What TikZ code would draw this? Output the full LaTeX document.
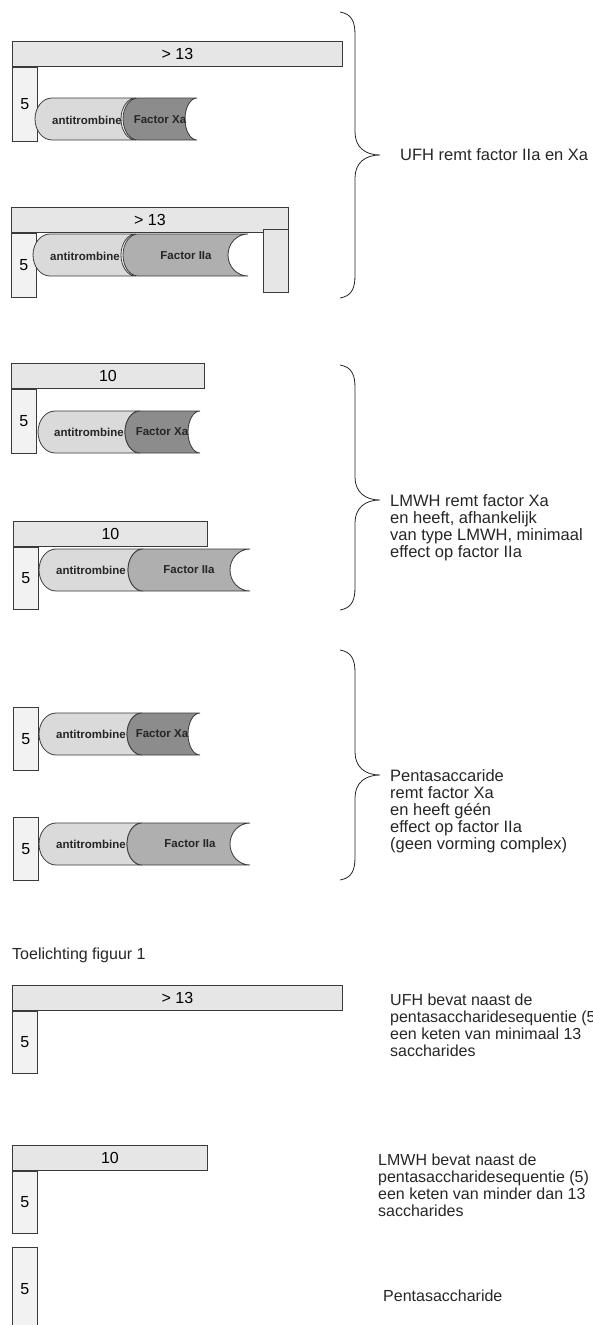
\documentclass[tikz,border=0pt]{standalone}
\usepackage{fontspec}
\setmainfont{Liberation Sans}
\usepackage{tikz}
\usetikzlibrary{calc}

\definecolor{barfill}{HTML}{E6E6E6}
\definecolor{unitfill}{HTML}{F1F2F1}
\definecolor{atfill}{HTML}{DADADA}
\definecolor{xafill}{HTML}{8C8C8C}
\definecolor{iiafill}{HTML}{AFAFAF}
\definecolor{edge}{HTML}{3A3A3A}

\tikzset{
  chainbar/.style={draw=edge,fill=barfill,line width=0.8pt,anchor=north west,minimum height=25,inner sep=0pt,font=\fontsize{16}{16}\selectfont},
  unitbox/.style={draw=edge,fill=unitfill,line width=0.8pt,anchor=north west,minimum width=25,inner sep=0pt,font=\fontsize{16}{16}\selectfont},
  molecule/.style={draw=edge,line width=0.8pt},
  mollabel/.style={font=\bfseries\fontsize{11.5}{11.5}\selectfont,text=black!85,inner sep=0pt},
  sidetext/.style={anchor=north west,align=left,inner sep=0pt,font=\fontsize{16.5}{17}\selectfont,text=black!85},
  notetext/.style={sidetext,font=\fontsize{16}{17}\selectfont},
  bracket/.style={draw=black!85,line width=0.8pt},
}

% antitrombine + factor: #1 top, #2 left end, #3 factor left end, #4 factor right end,
% #5 factor colour, #6 depth of the bite on the right, #7 gap at the junction
\newcommand{\complexpair}[7]{%
  \draw[molecule,fill=atfill] ({#2+17},#1) arc[start angle=90,end angle=270,x radius=17pt,y radius=21pt]
    -- ({#3+15-#7},{#1+42}) arc[start angle=270,end angle=90,x radius=15pt,y radius=21pt] -- cycle;
  \draw[molecule,fill=#5] (#4,#1) arc[start angle=90,end angle=270,x radius=#6pt,y radius=21pt]
    -- ({#3+15},{#1+42}) arc[start angle=270,end angle=90,x radius=15pt,y radius=21pt] -- cycle;
}

% right-hand brace: #1 x of the ends, #2 top, #3 tip, #4 bottom
\newcommand{\sidebrace}[4]{%
  \draw[bracket] (#1,#2) .. controls ({#1+12},{#2+2}) and ({#1+15},{#2+10}) .. ({#1+15},{#2+23})
    -- ({#1+15},{#3-23}) .. controls ({#1+15},{#3-8}) and ({#1+25},#3) .. ({#1+40},#3)
    .. controls ({#1+25},#3) and ({#1+15},{#3+8}) .. ({#1+15},{#3+23})
    -- ({#1+15},{#4-23}) .. controls ({#1+15},{#4-10}) and ({#1+12},{#4-2}) .. (#1,#4);
}

\begin{document}
\begin{tikzpicture}[x=1pt,y=-1pt]
  \useasboundingbox (0,0) rectangle (592,1325);

  % UFH
  \node[chainbar,minimum width=330] (bar1) at (12,41) {> 13};
  \node[unitbox,minimum height=74] (unit1) at (bar1.south west) {\raisebox{-8pt}{5}};
  \complexpair{98}{35}{123}{197}{xafill}{12}{2}
  \node[mollabel] (at1) at (87,120) {antitrombine};
  \node[mollabel] (fx1) at (160,120) {Factor Xa};

  \node[chainbar,minimum width=277] (bar2) at (11,207) {> 13};
  \node[unitbox,minimum height=64] (unit2) at (bar2.south west) {5};
  \complexpair{234}{33}{123}{248}{iiafill}{20}{2}
  \node[unitbox,fill=barfill,minimum height=63] (end2) at (263,229) {};
  \node[mollabel] (at2) at (85,256) {antitrombine};
  \node[mollabel] (fx2) at (186,256) {Factor IIa};

  \sidebrace{340}{12}{155}{298}
  \node[sidetext,anchor=west] (ufh) at (400,155) {UFH remt factor IIa en Xa};

  % LMWH
  \node[chainbar,minimum width=193] (bar3) at (11,363) {10};
  \node[unitbox,minimum height=64] (unit3) at (bar3.south west) {5};
  \complexpair{411}{38}{125}{200}{xafill}{12}{0}
  \node[mollabel] (at3) at (89,432) {antitrombine};
  \node[mollabel] (fx3) at (162,432) {Factor Xa};

  \node[chainbar,minimum width=194] (bar4) at (13,521) {10};
  \node[unitbox,minimum height=62] (unit4) at (bar4.south west) {5};
  \complexpair{549}{39}{128}{250}{iiafill}{20}{0}
  \node[mollabel] (at4) at (91,570) {antitrombine};
  \node[mollabel] (fx4) at (189,570) {Factor IIa};

  \sidebrace{340}{365}{500}{610}
  \node[sidetext] (lmwh) at (390,494) {LMWH remt factor Xa\\en heeft, afhankelijk\\van type LMWH, minimaal\\effect op factor IIa};

  % pentasaccharide
  \node[unitbox,minimum height=63] (unit5) at (13,707) {5};
  \complexpair{713}{39}{127}{200}{xafill}{12}{0}
  \node[mollabel] (at5) at (91,734) {antitrombine};
  \node[mollabel] (fx5) at (162,734) {Factor Xa};

  \node[unitbox,minimum height=63] (unit6) at (13,817) {5};
  \complexpair{823}{39}{127}{250}{iiafill}{20}{0}
  \node[mollabel] (at6) at (91,844) {antitrombine};
  \node[mollabel] (fx6) at (190,844) {Factor IIa};

  \sidebrace{340}{650}{775}{880}
  \node[sidetext] (penta) at (390,769) {Pentasaccaride\\remt factor Xa\\en heeft g\'e\'en\\effect op factor IIa\\(geen vorming complex)};

  % toelichting
  \node[notetext,anchor=west] (title) at (12,955) {Toelichting figuur 1};

  \node[chainbar,minimum width=330] (bar5) at (12,985) {> 13};
  \node[unitbox,minimum height=62] (unit7) at (bar5.south west) {5};
  \node[notetext] (ufhnote) at (390,994) {UFH bevat naast de\\pentasaccharidesequentie (5)\\een keten van minimaal 13\\saccharides};

  \node[chainbar,minimum width=195] (bar6) at (12,1145) {10};
  \node[unitbox,minimum height=62] (unit8) at (bar6.south west) {5};
  \node[notetext] (lmwhnote) at (378,1154) {LMWH bevat naast de\\pentasaccharidesequentie (5)\\een keten van minder dan 13\\saccharides};

  \node[unitbox,minimum height=90] (unit9) at (12,1247) {\raisebox{6pt}{5}};
  \node[notetext,anchor=west] (pentanote) at (383,1296) {Pentasaccharide};
\end{tikzpicture}
\end{document}
